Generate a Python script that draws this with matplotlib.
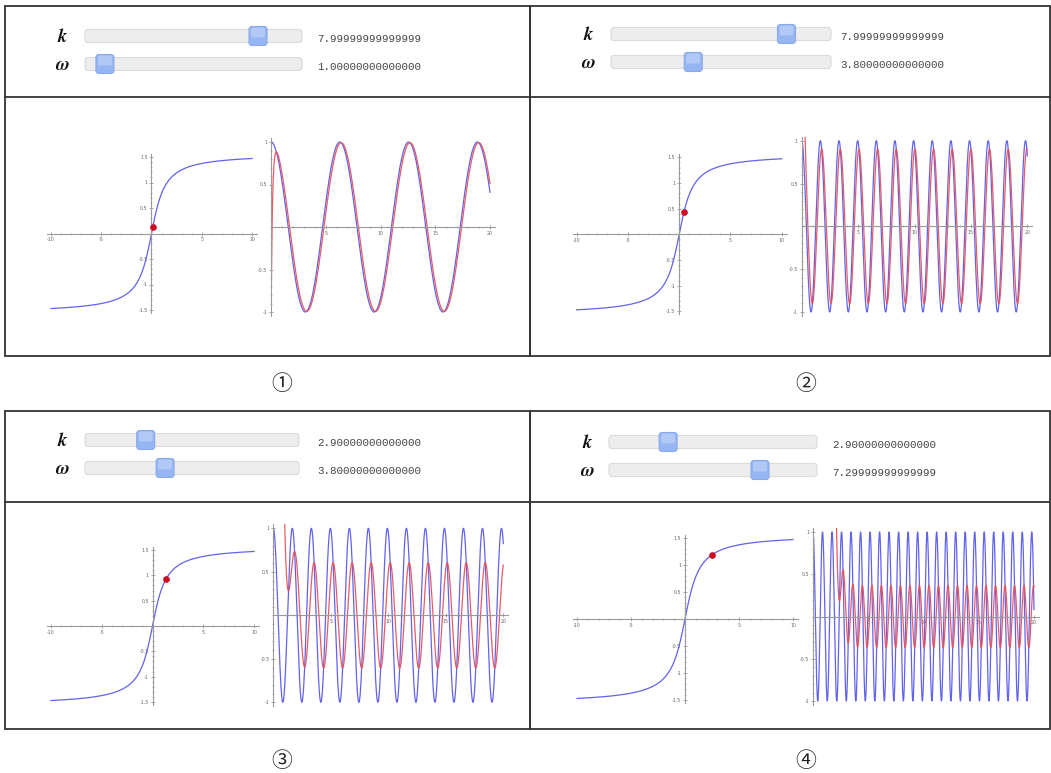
import numpy as np
import matplotlib
matplotlib.use('Agg')
import matplotlib.pyplot as plt
from matplotlib.patches import FancyBboxPatch, Rectangle
from matplotlib.ticker import MultipleLocator, FixedLocator, FixedFormatter

# ---------------- data ----------------
panel_labels = ['①', '②', '③', '④']
k_values = [7.99999999999999, 7.99999999999999, 2.9, 2.9]
omega_values = [1.0, 3.8, 3.8, 7.29999999999999]
k_texts = ['7.99999999999999', '7.99999999999999', '2.90000000000000', '2.90000000000000']
omega_texts = ['1.00000000000000', '3.80000000000000', '3.80000000000000', '7.29999999999999']
transient_coef = [-2.2, 4.0, 29.0, 511.0]      # size of the decaying start of the red curve
slider_range = [0.5, 9.6]
arctan_x_range = [-10, 10]
time_range = [0, 20]
left_xticks = [-10, -5, 5, 10]
left_xticklabels = ['-10', '-5', '5', '10']
left_yticks = [-1.5, -1, -0.5, 0.5, 1, 1.5]
left_yticklabels = ['-1.5', '-1', '-0.5', '0.5', '1', '1.5']
right_xticks = [5, 10, 15, 20]
right_xticklabels = ['5', '10', '15', '20']
right_yticks = [-1, -0.5, 0.5, 1]
right_yticklabels = ['-1', '-0.5', '0.5', '1']

# ---------------- layout (pixels) ----------------
W, H = 1051, 773
layout = [
    dict(box=(5, 6, 530, 356), div=97, rows=(36, 64), labx=62, track=(85, 302), valx=317,
         lmap=((-10, 51), (10, 252), (1.5, 157), (-1.5, 310)),
         rmap=((0, 271), (20, 490), (1, 142), (-1, 312)), cap=(282, 384)),
    dict(box=(530, 6, 1050, 356), div=97, rows=(34, 62), labx=588, track=(611, 831), valx=840,
         lmap=((-10, 576.7), (10, 781.7), (1.5, 157.3), (-1.5, 311.3)),
         rmap=((0, 801.7), (20, 1027.3), (1, 140.7), (-1, 312)), cap=(806, 384)),
    dict(box=(5, 411, 530, 729), div=502, rows=(440, 468), labx=62, track=(85, 299), valx=317,
         lmap=((-10, 51), (10, 254), (1.5, 550), (-1.5, 702)),
         rmap=((0, 273.3), (20, 503.3), (1, 528.3), (-1, 702.3)), cap=(282, 761)),
    dict(box=(530, 411, 1050, 729), div=502, rows=(442, 470), labx=587, track=(609, 817), valx=832,
         lmap=((-10, 577), (10, 793), (1.5, 538), (-1.5, 700)),
         rmap=((0, 813), (20, 1034), (1, 532), (-1, 701)), cap=(806, 761)),
]

fig = plt.figure(figsize=(W / 100, H / 100), dpi=100)
fig.patch.set_facecolor('white')
bg = fig.add_axes([0, 0, 1, 1])
bg.set_xlim(0, W)
bg.set_ylim(H, 0)
bg.axis('off')

AX_COL = '#9a9a9a'
TICK_COL = '#666666'
BLUE = '#6262ee'
RED = '#e8525c'


def make_axes(m, xlim, ylim):
    (xa, pxa), (xb, pxb), (ya, pya), (yb, pyb) = m
    sx = (pxb - pxa) / (xb - xa)
    sy = (pyb - pya) / (yb - ya)
    px0 = pxa + (xlim[0] - xa) * sx
    px1 = pxa + (xlim[1] - xa) * sx
    py_bot = pya + (ylim[0] - ya) * sy
    py_top = pya + (ylim[1] - ya) * sy
    ax = fig.add_axes([px0 / W, 1 - py_bot / H, (px1 - px0) / W, (py_bot - py_top) / H])
    ax.set_xlim(*xlim)
    ax.set_ylim(*ylim)
    ax.patch.set_alpha(0)
    for s in ('top', 'right'):
        ax.spines[s].set_visible(False)
    for s in ('left', 'bottom'):
        ax.spines[s].set_position(('data', 0))
        ax.spines[s].set_color(AX_COL)
        ax.spines[s].set_linewidth(0.8)
    ax.tick_params(which='major', direction='inout', length=3, width=0.6, color=AX_COL,
                   labelsize=3.4, labelcolor=TICK_COL, pad=1.2)
    ax.tick_params(which='minor', direction='inout', length=1.6, width=0.5, color=AX_COL)
    return ax


def slider(x0, x1, yc, value):
    tw = x1 - x0
    bg.add_patch(FancyBboxPatch((x0 + 3, yc - 6.5 + 3), tw - 6, 13 - 6,
                                boxstyle='round,pad=3', facecolor='#ededed',
                                edgecolor='#dadada', lw=0.8, zorder=2))
    frac = (value - slider_range[0]) / (slider_range[1] - slider_range[0])
    cx = x0 + 9 + frac * (tw - 18)
    bg.add_patch(FancyBboxPatch((cx - 9 + 3, yc - 9.5 + 3), 18 - 6, 19 - 6,
                                boxstyle='round,pad=3', facecolor='#96b6f3',
                                edgecolor='#8aa9ea', lw=0.8, zorder=3))
    bg.add_patch(FancyBboxPatch((cx - 9 + 4, yc - 9.5 + 3), 18 - 8, 6,
                                boxstyle='round,pad=2', facecolor='#b2c9f8',
                                edgecolor='none', lw=0, zorder=3))


for i, L in enumerate(layout):
    x0, y0, x1, y1 = L['box']
    bg.add_patch(Rectangle((x0, y0), x1 - x0, y1 - y0, fill=False, edgecolor='#333333', lw=1.3, zorder=4))
    bg.plot([x0, x1], [L['div'], L['div']], color='#333333', lw=1.3, zorder=4)

    # sliders
    ky, wy = L['rows']
    bg.text(L['labx'], ky + 1, 'k', fontfamily='STIXGeneral', fontstyle='italic', fontweight='bold',
            fontsize=13.5, ha='center', va='center', color='#111111')
    bg.text(L['labx'], wy + 1.5, 'ω', fontfamily='STIXGeneral', fontstyle='italic', fontweight='bold',
            fontsize=13.5, ha='center', va='center', color='#111111')
    slider(L['track'][0], L['track'][1], ky, k_values[i])
    slider(L['track'][0], L['track'][1], wy, omega_values[i])
    bg.text(L['valx'], ky + 3, k_texts[i], fontfamily='Liberation Mono', fontsize=7.8,
            ha='left', va='center', color='#444444')
    bg.text(L['valx'], wy + 3, omega_texts[i], fontfamily='Liberation Mono', fontsize=7.8,
            ha='left', va='center', color='#444444')

    # caption
    bg.text(L['cap'][0], L['cap'][1], panel_labels[i], fontfamily=['Noto Sans CJK SC', 'DejaVu Sans'],
            fontsize=15, ha='center', va='center', color='#222222')

    k = k_values[i]
    w = omega_values[i]

    # left: arctan curve with point
    axl = make_axes(L['lmap'], (-10.35, 10.5), (-1.55, 1.56))
    xs = np.linspace(arctan_x_range[0], arctan_x_range[1], 800)
    axl.plot(xs, np.arctan(xs), color=BLUE, lw=0.9)
    axl.plot([w / k], [np.arctan(w / k)], 'o', color='#d30a1e', ms=4.3, mec='#c0001a',
             mew=0.4, zorder=5, clip_on=False)
    axl.xaxis.set_major_locator(FixedLocator(left_xticks))
    axl.xaxis.set_major_formatter(FixedFormatter(left_xticklabels))
    axl.yaxis.set_major_locator(FixedLocator(left_yticks))
    axl.yaxis.set_major_formatter(FixedFormatter(left_yticklabels))
    axl.xaxis.set_minor_locator(MultipleLocator(1))
    axl.yaxis.set_minor_locator(MultipleLocator(0.1))

    # right: input cos(wt) and response
    axr = make_axes(L['rmap'], (0, 20.45), (-1.045, 1.045))
    ts = np.linspace(time_range[0], time_range[1], 5000)
    phi = np.arctan(w / k)
    amp = k / np.sqrt(k ** 2 + w ** 2)
    resp = amp * np.cos(w * ts - phi) + transient_coef[i] * np.exp(-k * ts)
    axr.plot(ts, np.cos(w * ts), color=BLUE, lw=0.9)
    axr.plot(ts, resp, color=RED, lw=0.9, alpha=0.95)
    axr.xaxis.set_major_locator(FixedLocator(right_xticks))
    axr.xaxis.set_major_formatter(FixedFormatter(right_xticklabels))
    axr.yaxis.set_major_locator(FixedLocator(right_yticks))
    axr.yaxis.set_major_formatter(FixedFormatter(right_yticklabels))
    axr.xaxis.set_minor_locator(MultipleLocator(1))
    axr.yaxis.set_minor_locator(MultipleLocator(0.1))

fig.savefig('out.png', dpi=100, facecolor='white')
